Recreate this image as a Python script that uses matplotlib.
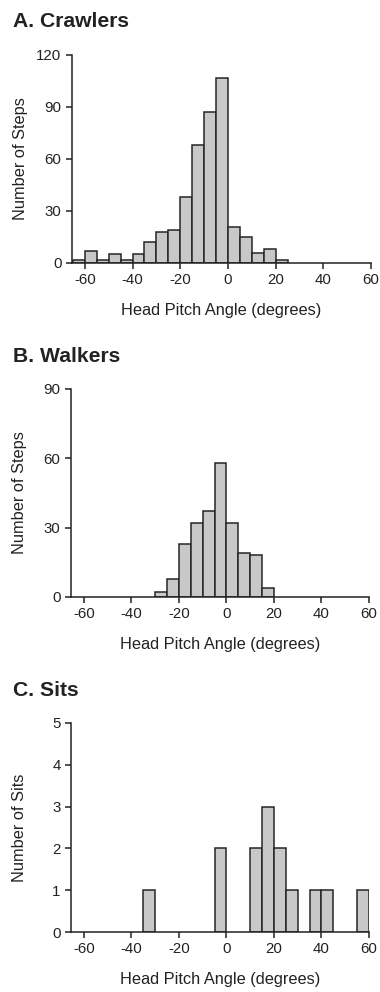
import matplotlib
matplotlib.use('Agg')
import matplotlib.pyplot as plt
import numpy as np

plt.rcParams['font.family'] = ['Liberation Sans', 'DejaVu Sans']
plt.rcParams['axes.unicode_minus'] = False

# bin left edges (5 degree bins) and counts
crawl_edges = [-65, -60, -55, -50, -45, -40, -35, -30, -25, -20, -15, -10, -5,
               0, 5, 10, 15, 20]
crawl_counts = [2, 7, 2, 5, 2, 5, 12, 18, 19, 38, 68, 87, 107, 21, 15, 6, 8, 2]

walk_edges = [-30, -25, -20, -15, -10, -5, 0, 5, 10, 15]
walk_counts = [2, 8, 23, 32, 37, 58, 32, 19, 18, 4]

sit_edges = [-35, -5, 10, 15, 20, 25, 35, 40, 55]
sit_counts = [1, 2, 2, 3, 2, 1, 1, 1, 1]

x_ticks = [-60, -40, -20, 0, 20, 40, 60]

panels = [
    ('A. Crawlers', crawl_edges, crawl_counts, 'Number of Steps', [0, 30, 60, 90, 120]),
    ('B. Walkers', walk_edges, walk_counts, 'Number of Steps', [0, 30, 60, 90]),
    ('C. Sits', sit_edges, sit_counts, 'Number of Sits', [0, 1, 2, 3, 4, 5]),
]

W, H = 380.0, 992.0
# axes boxes in pixels: left, top, right, bottom
boxes = [(72, 55, 371, 263), (71, 389, 369, 597), (71, 723, 369, 932)]
title_y = [27, 362, 696]

fig = plt.figure(figsize=(3.8, 9.92), dpi=100)
ink = '#222222'

for (title, edges, counts, ylab, yt), (l, t, r, b), ty in zip(panels, boxes, title_y):
    ax = fig.add_axes([l / W, 1 - b / H, (r - l) / W, (b - t) / H])
    ax.bar(edges, counts, width=5, align='edge', color='#c8c8c8',
           edgecolor='#262626', linewidth=1.1)
    ax.set_xlim(-65.4, 60)
    ax.set_ylim(0, yt[-1])
    ax.set_xticks(x_ticks)
    ax.set_yticks(yt)
    for s in ['top', 'right']:
        ax.spines[s].set_visible(False)
    for s in ['left', 'bottom']:
        ax.spines[s].set_linewidth(1.1)
        ax.spines[s].set_color(ink)
    ax.tick_params(direction='out', length=4.5, width=1.1, colors=ink,
                   labelsize=10.8, pad=3)
    ax.set_xlabel('Head Pitch Angle (degrees)', fontsize=11.8, color=ink)
    ax.set_ylabel(ylab, fontsize=11.8, color=ink)
    # fixed label positions (pixels away from the spines)
    ax.xaxis.set_label_coords(0.5, -40.0 / (b - t))
    ax.yaxis.set_label_coords(-44.0 / (r - l), 0.5)
    fig.text(13 / W, 1 - ty / H, title, fontsize=15.2, fontweight='bold',
             color=ink, ha='left', va='baseline')

fig.savefig('out.png', dpi=100)
